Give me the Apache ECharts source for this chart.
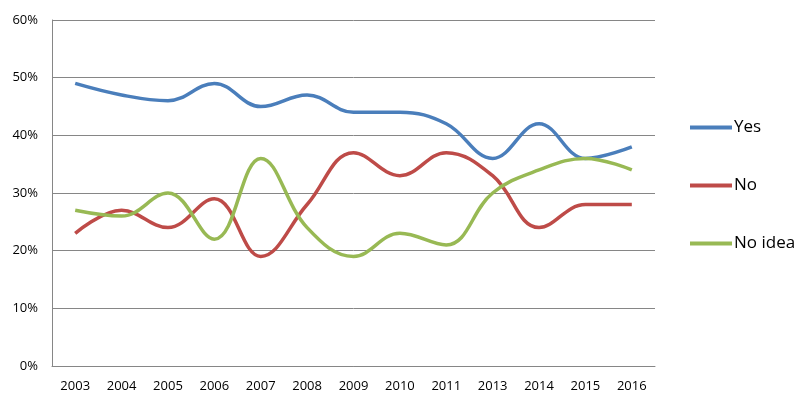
<!DOCTYPE html>
<html><head><meta charset="utf-8">
<script src="https://cdn.jsdelivr.net/npm/echarts@6/dist/echarts.min.js"></script>
<style>html,body{margin:0;padding:0;background:#fff}#c{width:811px;height:406px}</style>
</head><body><div id="c"></div>
<script>
const categories = ['2003','2004','2005','2006','2007','2008','2009','2010','2011','2013','2014','2015','2016'];
const yesValues = [49,47,46,49,45,47,44,44,42,36,42,36,38];
const noValues = [23,27,24,29,19,28,37,33,37,33,24,28,28];
const noIdeaValues = [27,26,30,22,36,24,19,23,21,30,34,36,34];
const seriesNames = ['Yes','No','No idea'];
const colors = ['#4A7EBB','#BE4B48','#98B954'];

const chart = echarts.init(document.getElementById('c'));
const font = 'Open Sans, Liberation Sans, sans-serif';
chart.setOption({
  animation:false,
  color: colors,
  grid:{left:52,right:156,top:20,bottom:40},
  legend:{
    orient:'vertical', left:690, top:119, padding:0,
    itemWidth:42, itemHeight:4, itemGap:41, icon:'rect',
    data: seriesNames,
    textStyle:{fontFamily:font,fontSize:17,color:'#000',padding:[0,0,0,-3]}
  },
  xAxis:{type:'category',data:categories,boundaryGap:true,
    axisLine:{lineStyle:{color:'#868686'}},axisTick:{show:false},
    axisLabel:{fontFamily:font,fontSize:13,color:'#000',margin:14,interval:0}},
  yAxis:{type:'value',min:0,max:60,interval:10,
    axisLine:{show:true,lineStyle:{color:'#868686'}},axisTick:{show:false},
    splitLine:{lineStyle:{color:'#868686'}},
    axisLabel:{fontFamily:font,fontSize:13,color:'#000',margin:14,formatter:'{value}%'}},
  series:[
    {name:seriesNames[0],type:'line',data:yesValues,smooth:0.4,showSymbol:false,lineStyle:{width:3.5}},
    {name:seriesNames[1],type:'line',data:noValues,smooth:0.4,showSymbol:false,lineStyle:{width:3.5}},
    {name:seriesNames[2],type:'line',data:noIdeaValues,smooth:0.4,showSymbol:false,lineStyle:{width:3.5}}
  ]
});
</script></body></html>
